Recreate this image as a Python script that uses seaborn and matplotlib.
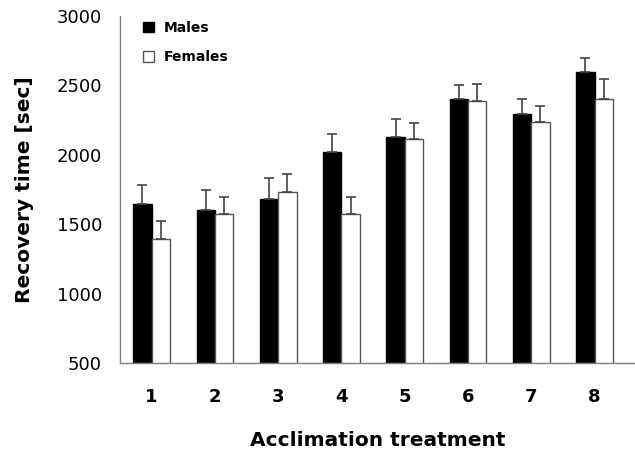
import pandas as pd
import matplotlib.pyplot as plt
import seaborn as sns

treatments = ["1", "2", "3", "4", "5", "6", "7", "8"]
males = [1650, 1600, 1685, 2020, 2130, 2400, 2295, 2600]
males_err = [130, 150, 150, 130, 130, 105, 105, 100]
females = [1395, 1575, 1735, 1575, 2115, 2385, 2235, 2405]
females_err = [130, 120, 130, 120, 115, 125, 120, 145]

df = pd.DataFrame({
    "treatment": treatments * 2,
    "time": males + females,
    "err": males_err + females_err,
    "sex": ["Males"] * 8 + ["Females"] * 8,
})

sns.set_style("white")
plt.rcParams["font.family"] = ["DejaVu Sans"]
plt.rcParams["text.color"] = "black"
plt.rcParams["axes.labelcolor"] = "black"

fig = plt.figure(figsize=(6.35, 4.55), dpi=100)
ax = fig.add_axes([120 / 635, 1 - 363.3 / 455, 515 / 635, 347.3 / 455])

sns.barplot(data=df, x="treatment", y="time", hue="sex", order=treatments,
            hue_order=["Males", "Females"], palette={"Males": "black", "Females": "white"},
            width=0.58, errorbar=None, linewidth=1, ax=ax)

edge = {"Males": "black", "Females": "#555555"}
for cont, sex in zip(ax.containers, ["Males", "Females"]):
    errs = df.loc[df["sex"] == sex, "err"].values
    xs, ys = [], []
    for bar in cont:
        bar.set_edgecolor(edge[sex])
        xs.append(bar.get_x() + bar.get_width() / 2)
        ys.append(bar.get_height())
    ax.errorbar(xs, ys, yerr=[[0] * len(errs), errs], fmt="none", ecolor="#444444",
                elinewidth=1.2, capsize=3.5, capthick=1.2, zorder=1)

ax.set_ylim(500, 3000)
ax.set_xlim(-0.5, 7.64)
ax.set_yticks([500, 1000, 1500, 2000, 2500, 3000])
ax.set_xticks(range(8))
ax.set_xticks([i - 0.5 for i in range(9)], minor=True)
ax.tick_params(axis="x", which="major", length=0, pad=18, labelsize=13, labelcolor="black")
ax.tick_params(axis="x", which="minor", length=6, width=1, color="#808080", direction="out")
ax.tick_params(axis="y", length=6, width=1, color="#808080", direction="out", pad=7,
               labelsize=13, labelcolor="black")
for lab in ax.get_xticklabels():
    lab.set_fontweight("bold")

for s in ["top", "right"]:
    ax.spines[s].set_visible(False)
for s in ["left", "bottom"]:
    ax.spines[s].set_color("#808080")
    ax.spines[s].set_linewidth(1)

ax.set_xlabel("Acclimation treatment", fontsize=14.5, fontweight="bold", labelpad=17.5)
ax.set_ylabel("Recovery time [sec]", fontsize=14.5, fontweight="bold", labelpad=16)

handles, labels = ax.get_legend_handles_labels()
for h, lab in zip(handles, labels):
    h.set_edgecolor(edge[lab])
ax.legend(handles, labels, loc="upper left", bbox_to_anchor=(143 / 635, 1 - 21 / 455),
          bbox_transform=fig.transFigure, frameon=False, borderpad=0, borderaxespad=0,
          handlelength=0.8, handleheight=0.8, handletextpad=0.7, labelspacing=1.1,
          prop={"weight": "bold", "size": 10})

fig.savefig("out.png", dpi=100)
